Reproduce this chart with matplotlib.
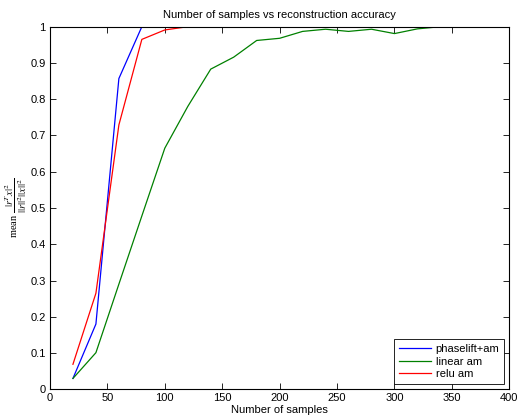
import matplotlib
matplotlib.use("Agg")
import matplotlib.pyplot as plt

plt.rcParams['font.family'] = ['Liberation Sans', 'DejaVu Sans']
plt.rcParams['mathtext.fontset'] = 'stix'

x_vals = [20, 40, 60, 80, 100, 120, 140, 160, 180, 200, 220, 240, 260, 280, 300, 320, 340, 360, 380, 400]
phaselift_am = [0.03, 0.18, 0.857, 1.0, 1.0, 1.0, 1.0, 1.0, 1.0, 1.0, 1.0, 1.0, 1.0, 1.0, 1.0, 1.0, 1.0, 1.0, 1.0, 1.0]
linear_am = [0.03, 0.101, 0.29, 0.478, 0.665, 0.78, 0.883, 0.916, 0.962, 0.968, 0.987, 0.993, 0.987, 0.993, 0.981, 0.994, 1.0, 1.0, 1.0, 1.0]
relu_am = [0.069, 0.265, 0.729, 0.965, 0.991, 1.0, 1.0, 1.0, 1.0, 1.0, 1.0, 1.0, 1.0, 1.0, 1.0, 1.0, 1.0, 1.0, 1.0, 1.0]

x_ticks = [0, 50, 100, 150, 200, 250, 300, 350, 400]
y_ticks = [0, 0.1, 0.2, 0.3, 0.4, 0.5, 0.6, 0.7, 0.8, 0.9, 1]
y_tick_labels = ['0', '0.1', '0.2', '0.3', '0.4', '0.5', '0.6', '0.7', '0.8', '0.9', '1']

fig = plt.figure(figsize=(5.19, 4.17), dpi=100)
ax = fig.add_axes([0.0963, 0.0664, 0.885, 0.8696])

ax.plot(x_vals, phaselift_am, color='#0000ff', lw=0.9, label='phaselift+am')
ax.plot(x_vals, linear_am, color='#008000', lw=0.9, label='linear am')
ax.plot(x_vals, relu_am, color='#ff0000', lw=0.9, label='relu am')

ax.set_xlim(0, 400)
ax.set_ylim(0, 1)
ax.set_xticks(x_ticks)
ax.set_yticks(y_ticks)
ax.set_yticklabels(y_tick_labels)
ax.tick_params(direction='in', top=True, right=True, labelsize=8, length=4, width=0.6, pad=3)
for s in ax.spines.values():
    s.set_linewidth(0.8)

ax.set_title('Number of samples vs reconstruction accuracy', fontsize=8, pad=6)
ax.set_xlabel('Number of samples', fontsize=8, labelpad=1)
ax.set_ylabel(r'mean $\dfrac{|r^Tx|^2}{||r||^2||x||^2}$', fontsize=7.5, family='Liberation Serif', labelpad=1)

leg = ax.legend(loc='lower right', fontsize=8, fancybox=False, edgecolor='black',
                framealpha=1, borderpad=0.45, handlelength=2.9, labelspacing=0.25,
                borderaxespad=0.45, handletextpad=0.4)
leg.get_frame().set_linewidth(0.6)

fig.savefig('out.png', dpi=100)
